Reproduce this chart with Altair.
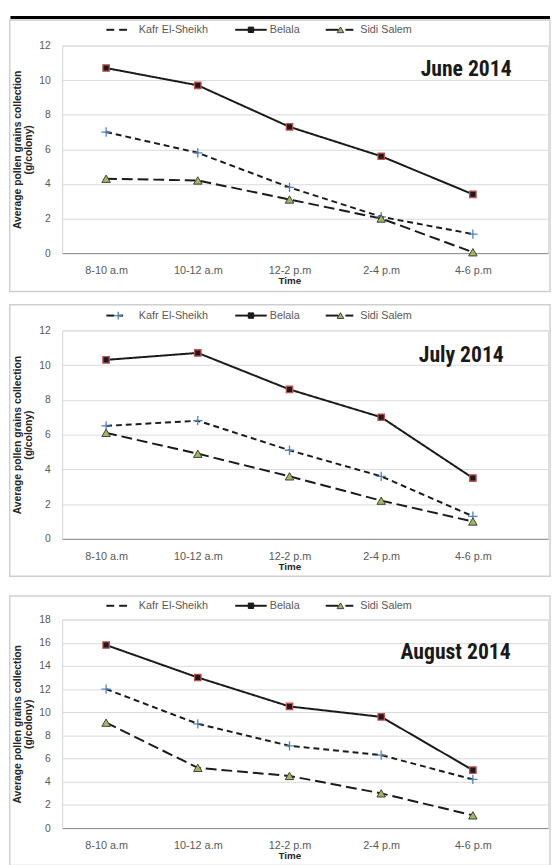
import json
import altair as alt
import pandas as pd

# ---------------- data ----------------
times = ["8-10 a.m", "10-12 a.m", "12-2 p.m", "2-4 p.m", "4-6 p.m"]
series = ["Kafr El-Sheikh", "Belala", "Sidi Salem"]
months = ["June 2014", "July 2014", "August 2014"]

june_kafr = [7.0, 5.8, 3.8, 2.1, 1.1]
june_belala = [10.7, 9.7, 7.3, 5.6, 3.4]
june_sidi = [4.3, 4.2, 3.1, 2.0, 0.05]

july_kafr = [6.5, 6.8, 5.1, 3.6, 1.3]
july_belala = [10.3, 10.7, 8.6, 7.0, 3.5]
july_sidi = [6.1, 4.9, 3.6, 2.2, 1.0]

aug_kafr = [12.0, 9.0, 7.1, 6.3, 4.2]
aug_belala = [15.8, 13.0, 10.5, 9.6, 5.0]
aug_sidi = [9.1, 5.2, 4.5, 3.0, 1.1]

y_max = [12, 12, 18]
y_title = ["Average pollen grains collection", "(g/colony)"]
x_title = "Time"

# ---------------- style ----------------
FONT = "Liberation Sans"
TITLE_FONT = "Liberation Sans Narrow, Roboto Condensed, Liberation Sans"
TEXT_GRAY = "#595959"
GRID = "#d9d9d9"
LINE = "#1a1a1a"
PLOT_W = 494

DASHES = [[6, 4], [1, 0], [11, 5]]
PLUS_PATH = "M-1,0H1M0,-1V1"

label_expr = json.dumps(times) + "[datum.value]"


def seg(x1, x2, cy):
    return alt.Chart(pd.DataFrame({"k": [0]})).mark_rule(color=LINE, strokeWidth=2).encode(
        x=alt.value(x1), x2=alt.value(x2), y=alt.value(cy))


def marker(cx, cy, **kw):
    return alt.Chart(pd.DataFrame({"k": [0]})).mark_point(opacity=1, **kw).encode(
        x=alt.value(cx), y=alt.value(cy))


def label(name, lx, cy):
    return alt.Chart(pd.DataFrame({"s": [name]})).mark_text(
        align="left", baseline="middle", font=FONT, fontSize=11, color=TEXT_GRAY
    ).encode(x=alt.value(lx), y=alt.value(cy), text="s:N")


def legend_layers(cy, plus=False):
    out = [
        # Kafr El-Sheikh : "- -"
        seg(45, 53, cy), seg(58, 66, cy) if not plus else seg(58, 62, cy),
        label(series[0], 78, cy),
        # Belala : "-■-"
        seg(176, 208, cy),
        marker(192, cy, shape="square", size=30, filled=True, fill=LINE,
               stroke=LINE, strokeWidth=1),
        label(series[1], 211, cy),
        # Sidi Salem : "-▲ -"
        seg(268, 281, cy), seg(288, 296, cy),
        marker(283, cy, shape="triangle-up", size=45, filled=True, fill="#9bbb59",
               stroke="#404040", strokeWidth=1),
        label(series[2], 303, cy),
    ]
    if plus:
        out.append(marker(57, cy, shape=PLUS_PATH, size=64, filled=False,
                          stroke="#4f81bd", strokeWidth=1.3))
    return out


def panel(month, kafr, belala, sidi, ymax, height, legend_cy, title_x, title_y,
          frame_top, frame_bottom, top_rule=False, plus=False):
    df = pd.DataFrame({
        "idx": list(range(len(times))) * 3,
        "time": times * 3,
        "series": [s for s in series for _ in times],
        "value": kafr + belala + sidi,
    })

    x = alt.X("idx:Q",
              scale=alt.Scale(domain=[-0.48, 4.82], nice=False, zero=False),
              axis=alt.Axis(values=[0, 1, 2, 3, 4], labelExpr=label_expr,
                            grid=False, ticks=False, tickSize=0,
                            domainColor="#8c8c8c", domainWidth=1,
                            labelFont=FONT, labelFontSize=11, labelColor=TEXT_GRAY,
                            labelPadding=12,
                            title=x_title, titleFont=FONT, titleFontSize=10,
                            titleFontWeight="bold", titleColor="#262626",
                            titleX=231, titleY=28, titleBaseline="middle"))
    y = alt.Y("value:Q",
              scale=alt.Scale(domain=[0, ymax], nice=False, zero=True),
              axis=alt.Axis(values=list(range(0, ymax + 1, 2)),
                            grid=True, gridColor=GRID, gridWidth=1,
                            ticks=False, tickSize=0,
                            domainColor=GRID,
                            labelFont=FONT, labelFontSize=10.5, labelColor=TEXT_GRAY,
                            labelPadding=12,
                            title=y_title, titleFont=FONT, titleFontSize=10.5,
                            titleFontWeight="bold", titleColor="#262626",
                            titleLineHeight=11, titleX=-40, titleY=height / 2))

    one = pd.DataFrame({"t": [month]})

    frame = alt.Chart(one).mark_rect(
        fill="transparent", stroke="#cfcfcf", strokeWidth=1.5
    ).encode(x=alt.value(-53.25), x2=alt.value(496),
             y=alt.value(frame_top), y2=alt.value(frame_bottom))

    lines = alt.Chart(df).mark_line(color=LINE, strokeWidth=2).encode(
        x=x, y=y,
        strokeDash=alt.StrokeDash("series:N",
                                  scale=alt.Scale(domain=series, range=DASHES),
                                  legend=None),
    )

    pts_kafr = alt.Chart(df[df["series"] == series[0]]).mark_point(
        shape=PLUS_PATH, size=90, filled=False, stroke="#4f81bd",
        strokeWidth=1.3, opacity=1
    ).encode(x=x, y=y)
    pts_belala = alt.Chart(df[df["series"] == series[1]]).mark_point(
        shape="square", size=42, filled=True, fill=LINE, stroke="#c0504d",
        strokeWidth=1.3, opacity=1
    ).encode(x=x, y=y)
    pts_sidi = alt.Chart(df[df["series"] == series[2]]).mark_point(
        shape="triangle-up", size=75, filled=True, fill="#9bbb59", stroke="#404040",
        strokeWidth=1, opacity=1
    ).encode(x=x, y=y)

    title = alt.Chart(one).mark_text(
        align="right", baseline="middle", font=TITLE_FONT, fontSize=22,
        fontWeight="bold", color=LINE
    ).encode(x=alt.value(title_x), y=alt.value(title_y), text="t:N")

    layers = [frame]
    if top_rule:
        rule = alt.Chart(one).mark_rule(color="#000000", strokeWidth=3).encode(
            x=alt.value(-52.5), x2=alt.value(496), y=alt.value(-28.5))
        layers.append(rule)
    layers += [lines, pts_kafr, pts_belala, pts_sidi, title]
    layers += legend_layers(legend_cy, plus)

    return alt.layer(*layers).properties(width=PLOT_W, height=height)


p1 = panel(months[0], june_kafr, june_belala, june_sidi, y_max[0], 211,
           -16, 457, 24, -26, 250, top_rule=True)
p2 = panel(months[1], july_kafr, july_belala, july_sidi, y_max[1], 212,
           -15, 449, 25, -26, 250, plus=True)
p3 = panel(months[2], aug_kafr, aug_belala, aug_sidi, y_max[2], 212,
           -14, 456, 33, -24, 250)

inner = alt.vconcat(p1, p2, spacing=9.5).resolve_scale(x="independent", y="independent")

chart = alt.vconcat(inner, p3, spacing=16.5, padding=0).resolve_scale(
    x="independent", y="independent").configure_view(
    stroke=None).configure(background="white")

chart.save("out.html", embed_options={"renderer": "svg", "actions": False})
